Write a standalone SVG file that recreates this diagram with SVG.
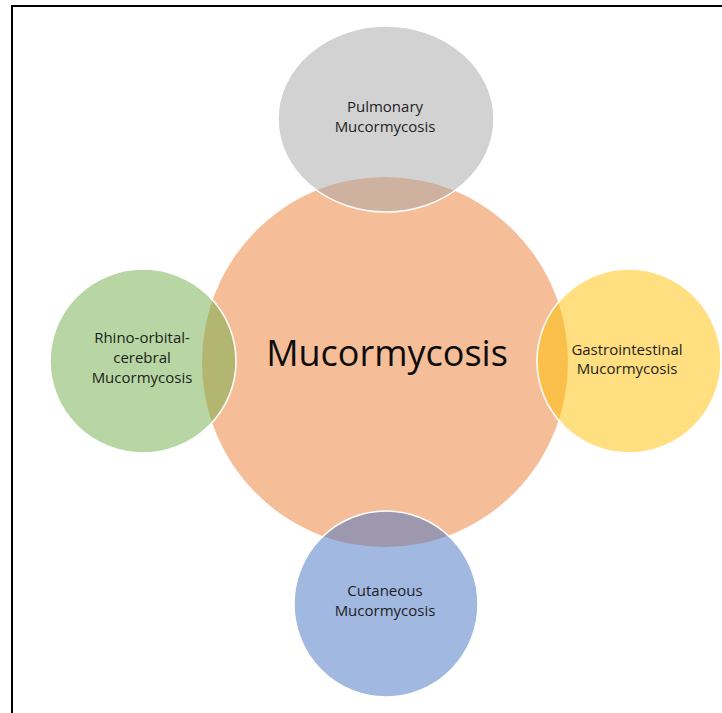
<svg xmlns="http://www.w3.org/2000/svg" width="722" height="713" viewBox="0 0 722 713">
<style>
.bg{fill:#ffffff}
.frame{fill:none;stroke:#000;stroke-width:2}
.center{fill:#ed7d31;fill-opacity:0.5}
.sat{fill-opacity:0.5;stroke:#ffffff;stroke-width:1.5}
.lbl{font-family:"Open Sans","Liberation Sans",sans-serif;font-size:15px;fill:#1e1e1e;text-anchor:middle}
.main{font-family:"Open Sans","Liberation Sans",sans-serif;font-size:36px;fill:#0d0d0d;text-anchor:middle}
</style>
<rect class="bg" x="0" y="0" width="722" height="713"/>
<path class="frame" d="M12,713 V6 H722"/>
<g id="connectors"></g>
<g id="node-center">
<ellipse class="center" cx="385" cy="362" rx="183" ry="185"/>
<text class="main" x="387" y="366">Mucormycosis</text>
</g>
<g id="node-pulmonary">
<ellipse class="sat" fill="#a5a5a5" cx="386" cy="119" rx="108" ry="93"/>
<text class="lbl" x="385" y="112">Pulmonary</text>
<text class="lbl" x="385" y="132">Mucormycosis</text>
</g>
<g id="node-rhino">
<ellipse class="sat" fill="#70ad47" cx="143" cy="361" rx="93" ry="92"/>
<text class="lbl" x="142" y="343">Rhino-orbital-</text>
<text class="lbl" x="142" y="363">cerebral</text>
<text class="lbl" x="142" y="383">Mucormycosis</text>
</g>
<g id="node-gastro">
<ellipse class="sat" fill="#ffc000" cx="629" cy="361" rx="92" ry="92"/>
<text class="lbl" x="627" y="355">Gastrointestinal</text>
<text class="lbl" x="627" y="374">Mucormycosis</text>
</g>
<g id="node-cutaneous">
<ellipse class="sat" fill="#4472c4" cx="386" cy="604" rx="92" ry="93"/>
<text class="lbl" x="385" y="596">Cutaneous</text>
<text class="lbl" x="385" y="616">Mucormycosis</text>
</g>
</svg>
